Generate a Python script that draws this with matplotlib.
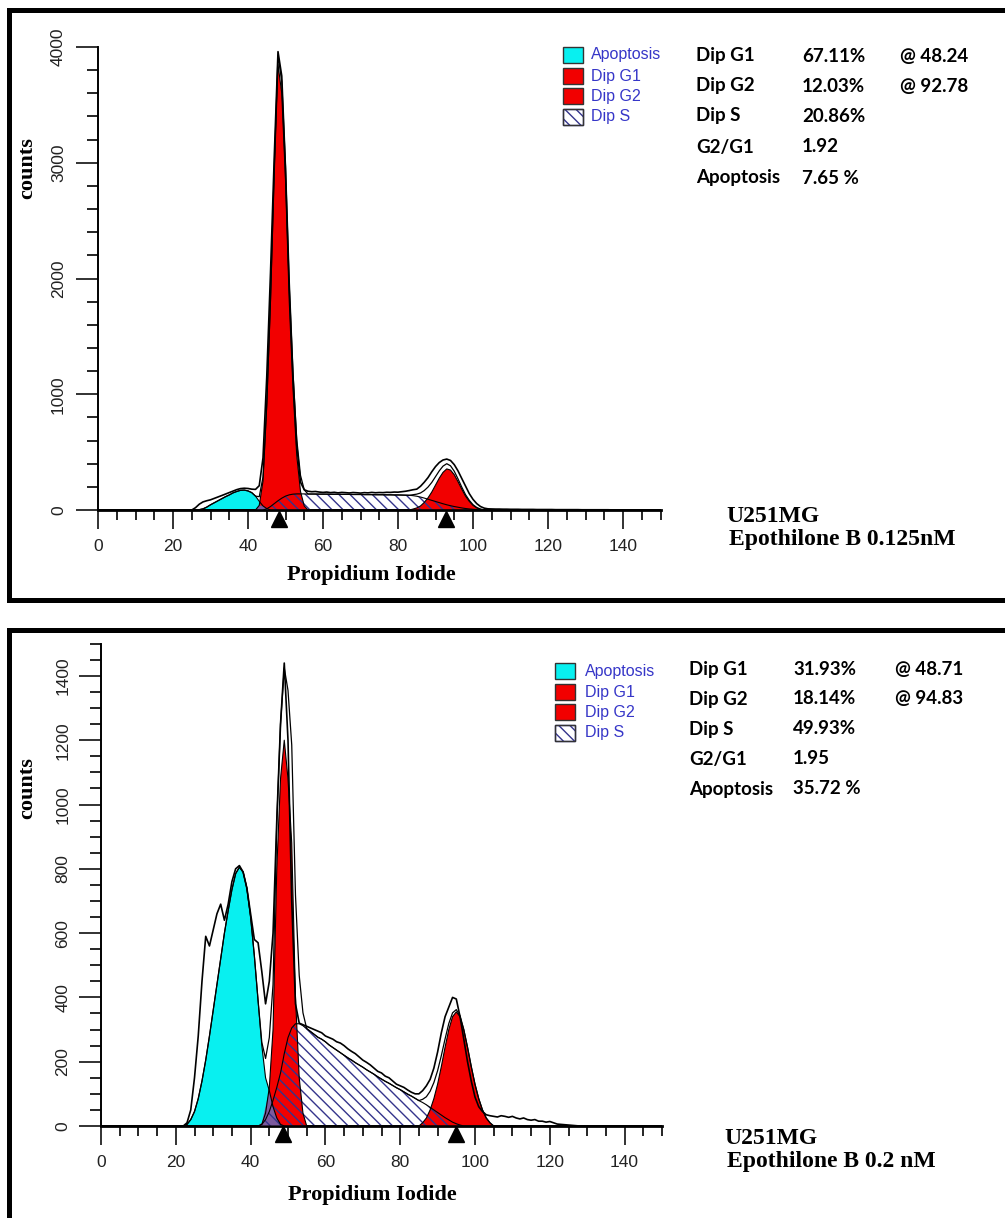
import numpy as np
import matplotlib
matplotlib.use("Agg")
import matplotlib.pyplot as plt
from matplotlib.patches import Rectangle
from matplotlib.lines import Line2D
import matplotlib.transforms as mtrans

# ---------------- data ----------------
N_CH = 151  # channels 0..150

# Panel 1: U251MG, Epothilone B 0.125nM
top_apop_start = 26
top_apop = [0, 3, 10, 25, 45, 62, 80, 98, 115, 130, 148, 160, 170, 172, 165, 150, 120, 75, 35, 12, 0]
top_g1_start = 42
top_g1 = [0, 40, 250, 900, 1800, 2900, 3850, 3600, 2850, 1800, 1050, 470, 160, 35, 0]
top_s_start = 44
top_s = [0, 10, 30, 55, 80, 102, 120, 131, 137, 139, 139, 139, 138, 138, 138, 137, 137, 137, 136, 136,
         136, 135, 135, 135, 134, 134, 134, 133, 133, 133, 132, 132, 132, 131, 131, 130, 130, 129, 128, 127,
         124, 119, 112, 103, 93, 83, 73, 63, 54, 45, 37, 30, 24, 18, 13, 9, 6, 4, 2, 1, 0]
top_g2_start = 83
top_g2 = [0, 8, 18, 35, 65, 105, 155, 215, 275, 325, 355, 345, 305, 245, 180, 120, 75, 40, 18, 6, 0]
top_data_start = 25
top_data = [0, 20, 50, 70, 80, 88, 100, 112, 125, 138, 150, 165, 176, 185, 188, 186, 180, 178, 210, 450,
            1150, 2050, 3050, 3960, 3750, 2950, 1950, 1150, 560, 240,
            175, 162, 158, 160, 155, 152, 155, 150, 153, 148, 152, 150, 147, 151, 149, 146, 150, 148, 152, 149,
            151, 150, 153, 152, 155, 154, 158, 162, 168, 175,
            180, 205, 240, 280, 330, 375, 410, 432, 440, 428, 392, 338, 272, 204, 142, 92, 55, 30, 16, 10,
            9, 8, 8, 7, 7, 6, 6, 6, 5, 5, 5, 5, 4, 4, 4, 4, 4, 3, 3, 3, 3, 3, 3, 3, 2, 2, 2, 2, 2, 2,
            2, 2, 1, 1, 1, 1, 1, 1, 1, 1, 1, 1, 1, 1, 0, 0]
top_stats = [("Dip G1", "67.11%", "@ 48.24"), ("Dip G2", "12.03%", "@ 92.78"),
             ("Dip S", "20.86%", ""), ("G2/G1", "1.92", ""), ("Apoptosis", "7.65 %", "")]
top_peaks = [48.24, 92.78]
top_title = ["U251MG", "Epothilone B 0.125nM"]
top_yticks = [0, 1000, 2000, 3000, 4000]

# Panel 2: U251MG, Epothilone B 0.2 nM
bot_apop_start = 22
bot_apop = [0, 5, 20, 45, 85, 140, 205, 280, 360, 440, 520, 600, 670, 735, 785, 805, 790, 740, 650, 530,
            390, 250, 150, 110, 60, 25, 5, 0]
bot_g1_start = 43
bot_g1 = [5, 40, 120, 300, 800, 1080, 1200, 1080, 880, 400, 150, 40, 0]
bot_s_start = 43
bot_s = [5, 20, 45, 80, 120, 165, 225, 275, 305, 318, 318, 312, 303, 294, 285, 276, 270, 262, 252, 244,
         236, 228, 220, 212, 205, 197, 190, 183, 175, 168, 161, 153, 146, 139, 133, 126, 119, 113, 106, 99,
         93, 86, 79, 73, 66, 58, 50, 42, 34, 26, 19, 12, 7, 3, 0]
bot_g2_start = 85
bot_g2 = [0, 10, 25, 50, 85, 130, 185, 245, 300, 340, 355, 340, 300, 245, 185, 130, 85, 50, 25, 10, 0]
bot_data_start = 22
bot_data = [0, 10, 50, 150, 280, 450, 590, 560, 610, 660,
            690, 640, 690, 760, 800, 810, 790, 740, 660, 580,
            570, 480, 380, 450, 600, 950, 1250, 1440, 1200, 700,
            380, 320, 315, 310, 305, 300, 295, 290, 280, 275,
            270, 262, 258, 250, 240, 232, 225, 215, 205, 198,
            190, 180, 170, 165, 155, 150, 140, 130, 125, 120,
            112, 105, 100, 100, 110, 125, 145, 180, 230, 290,
            340, 370, 400, 395, 340, 270, 200, 140, 90, 60,
            45, 35, 32, 30, 28, 32, 30, 27, 30, 25,
            22, 25, 20, 18, 20, 15, 15, 12, 14, 10,
            6, 5, 4, 3, 2, 1, 0]
bot_stats = [("Dip G1", "31.93%", "@ 48.71"), ("Dip G2", "18.14%", "@ 94.83"),
             ("Dip S", "49.93%", ""), ("G2/G1", "1.95", ""), ("Apoptosis", "35.72 %", "")]
bot_peaks = [48.71, 94.83]
bot_title = ["U251MG", "Epothilone B 0.2 nM"]
bot_yticks = [0, 200, 400, 600, 800, 1000, 1200, 1400]

legend_labels = ["Apoptosis", "Dip G1", "Dip G2", "Dip S"]

# ---------------- styling ----------------
CYAN = "#08f0f0"
RED = "#f20000"
PURPLE = "#7c5a9e"
NAVY = "#34348c"
LEG_TXT = "#3636c8"
SANS = ["Liberation Sans", "DejaVu Sans"]
SERIF = ["Liberation Serif", "DejaVu Serif"]
BOLD_SANS = ["Lato", "DejaVu Sans"]

plt.rcParams["hatch.linewidth"] = 1.0
plt.rcParams["hatch.color"] = NAVY

W, H = 1005, 1218
fig = plt.figure(figsize=(W / 100, H / 100), dpi=100)


def fx(px):
    return px / W


def fy(py):
    return 1 - py / H


def full(start, vals):
    arr = np.zeros(N_CH)
    v = np.asarray(vals, dtype=float)
    arr[start:start + len(v)] = v
    return arr


ch = np.arange(N_CH)


def panel(rect, ymax, yticks, yminor, ypad, series, peaks, tri_off):
    apop, g1, s, g2, data = [full(*a) for a in series]
    ax = fig.add_axes(rect)
    ax.patch.set_alpha(0)
    ax.set_xlim(0, 150)
    ax.set_ylim(0, ymax)
    for sp in ["top", "right"]:
        ax.spines[sp].set_visible(False)
    ax.spines["left"].set_linewidth(1.4)
    ax.spines["bottom"].set_linewidth(2.0)
    ax.set_xticks(np.arange(0, 141, 20))
    ax.set_xticks(np.arange(0, 151, 5), minor=True)
    ax.set_yticks(yticks)
    ax.set_yticks(np.arange(0, ymax + 1, yminor), minor=True)
    ax.tick_params(axis="x", which="major", length=14, width=1.3, direction="out", pad=7,
                   labelsize=12.5, colors="#222222")
    ax.tick_params(axis="x", which="minor", length=7, width=1.2, direction="out")
    ax.tick_params(axis="y", which="major", length=16, width=1.3, direction="out", pad=ypad,
                   labelsize=12.5, colors="#222222")
    ax.tick_params(axis="y", which="minor", length=8, width=1.2, direction="out")
    for lab in ax.get_xticklabels() + ax.get_yticklabels():
        lab.set_family(SANS)
    for lab in ax.get_yticklabels():
        lab.set_rotation(90)
        lab.set_va("center")

    # component fills
    ax.fill_between(ch, 0, apop, facecolor=CYAN, edgecolor="none", zorder=2)
    ax.fill_between(ch, 0, g1, facecolor=RED, edgecolor="none", zorder=3)
    ax.fill_between(ch, 0, g2, facecolor=RED, edgecolor="none", zorder=3)
    overlap = np.minimum(apop, s + g1)
    ax.fill_between(ch, 0, overlap, facecolor=PURPLE, edgecolor="none", zorder=4)
    ax.fill_between(ch, 0, s, facecolor="none", edgecolor=NAVY, hatch="\\\\\\", linewidth=0, zorder=5)
    # outlines
    for comp in (apop, g1, g2, s):
        ax.plot(ch, comp, color="black", lw=0.8, zorder=6)
    fit_sum = apop + g1 + g2 + s
    ax.plot(ch, fit_sum, color="black", lw=0.9, zorder=7)
    ax.plot(ch, data, color="black", lw=1.2, zorder=8)

    # peak markers
    off = mtrans.ScaledTranslation(0, -tri_off / 100, fig.dpi_scale_trans)
    ax.plot(peaks, [0] * len(peaks), marker="^", ls="none", color="black", markersize=11,
            transform=ax.transData + off, clip_on=False, zorder=9)
    return ax


top_series = [(top_apop_start, top_apop), (top_g1_start, top_g1), (top_s_start, top_s),
              (top_g2_start, top_g2), (top_data_start, top_data)]
bot_series = [(bot_apop_start, bot_apop), (bot_g1_start, bot_g1), (bot_s_start, bot_s),
              (bot_g2_start, bot_g2), (bot_data_start, bot_data)]

panel([fx(98), fy(510), 562.5 / W, 463 / H], 4000, top_yticks, 200, 7, top_series, top_peaks, 9)
panel([fx(101), fy(1126), 561 / W, 482.25 / H], 1500, bot_yticks, 50, 6, bot_series, bot_peaks, 8)


def txt(px, py, s, **kw):
    fig.text(fx(px), fy(py), s, **kw)


def annotate(y_off, legx, labx, leg_rows, stat_cols, stat_rows, title, title_pos, xlab_pos, ylab_pos):
    # legend
    fills = [dict(facecolor=CYAN), dict(facecolor=RED), dict(facecolor=RED),
             dict(facecolor="white", hatch="\\\\\\", edgecolor=NAVY)]
    for i, (lab, st) in enumerate(zip(legend_labels, fills)):
        yc = leg_rows[i]
        r = Rectangle((fx(legx), fy(yc + 8)), 20 / W, 16 / H, transform=fig.transFigure,
                      linewidth=1.0, **({"edgecolor": "#333333"} | st))
        fig.add_artist(r)
        if i == 3:
            fig.add_artist(Rectangle((fx(legx), fy(yc + 8)), 20 / W, 16 / H, transform=fig.transFigure,
                                     facecolor="none", edgecolor="#333333", linewidth=1.0))
        txt(labx, yc, lab, family=SANS, fontsize=11.5, color=LEG_TXT, va="center", ha="left")
    # stats
    for i, row in enumerate(stat_rows):
        for j, cell in enumerate(row):
            if cell:
                txt(stat_cols[j], y_off[i], cell, family=BOLD_SANS, fontweight="bold", fontsize=13.5,
                    color="black", va="center", ha="left")
    # sample title
    txt(title_pos[0], title_pos[1], title[0], family=SERIF, fontweight="bold", fontsize=17,
        va="center", ha="left")
    txt(title_pos[0] + 3, title_pos[1] + 23, title[1], family=SERIF, fontweight="bold", fontsize=17,
        va="center", ha="left")
    txt(xlab_pos[0], xlab_pos[1], "Propidium Iodide", family=SERIF, fontweight="bold", fontsize=16,
        va="center", ha="center")
    txt(ylab_pos[0], ylab_pos[1], "counts", family=SERIF, fontweight="bold", fontsize=16,
        va="center", ha="center", rotation=90)


annotate([56, 86, 116, 147, 178], 563, 591, [55, 76, 96, 117], [696, 802, 900], top_stats,
         top_title, (726, 517), (371, 575), (27, 168))
annotate([669, 699, 729, 759, 789], 555, 585, [671, 692, 712, 733], [689, 793, 895], bot_stats,
         bot_title, (724, 1139), (372, 1195), (27, 788))

# outer frames
LW = 3.6
fig.add_artist(Line2D([fx(9), fx(9), fx(1005)], [fy(600), fy(9.5), fy(9.5)], transform=fig.transFigure,
                      color="black", lw=LW, solid_joinstyle="miter"))
fig.add_artist(Line2D([fx(9), fx(1005)], [fy(600), fy(600)], transform=fig.transFigure,
                      color="black", lw=LW))
fig.add_artist(Line2D([fx(9), fx(9), fx(1005)], [fy(1218), fy(630), fy(630)], transform=fig.transFigure,
                      color="black", lw=LW, solid_joinstyle="miter"))

fig.savefig("out.png", dpi=100)
